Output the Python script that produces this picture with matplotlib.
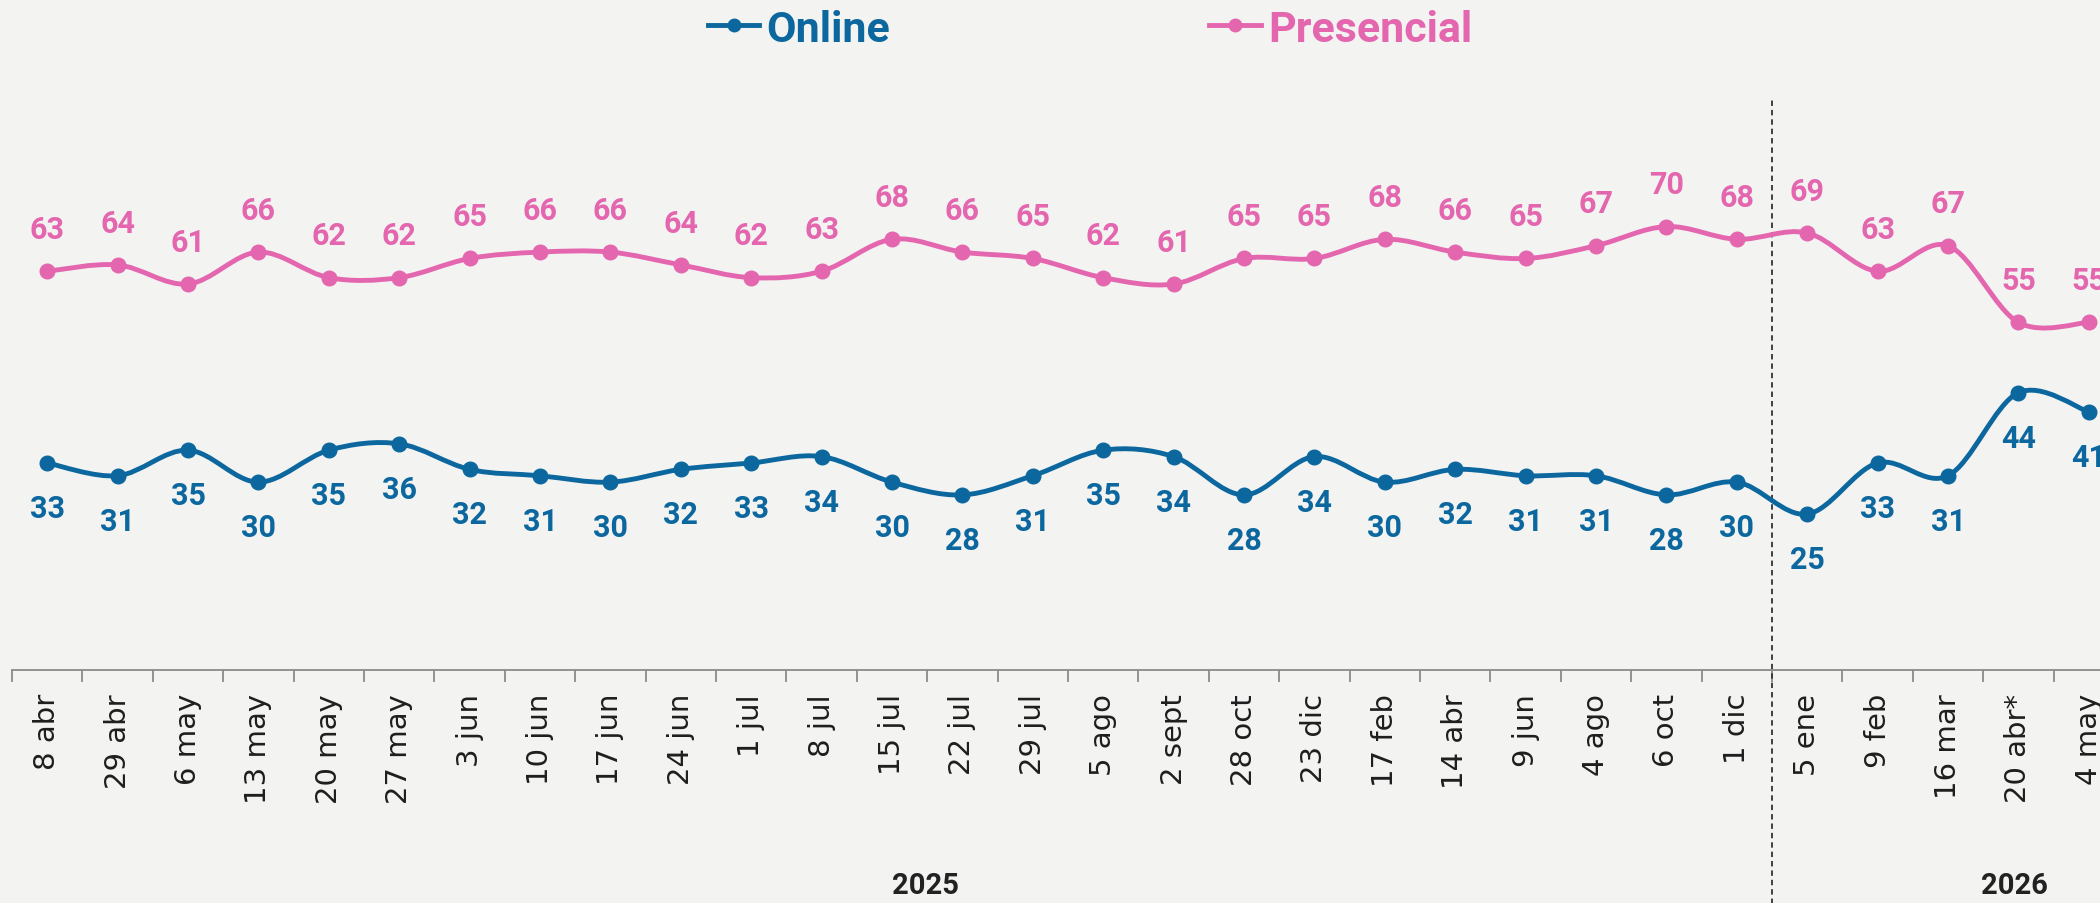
import matplotlib
matplotlib.use("Agg")
import matplotlib.pyplot as plt
from matplotlib.path import Path
from matplotlib.patches import PathPatch
from matplotlib.lines import Line2D
from matplotlib.ticker import FixedLocator
import matplotlib.transforms as mtransforms
import numpy as np

# ---------------- data ----------------
categories = ["8 abr", "29 abr", "6 may", "13 may", "20 may", "27 may", "3 jun",
              "10 jun", "17 jun", "24 jun", "1 jul", "8 jul", "15 jul", "22 jul",
              "29 jul", "5 ago", "2 sept", "28 oct", "23 dic", "17 feb", "14 abr",
              "9 jun", "4 ago", "6 oct", "1 dic", "5 ene", "9 feb", "16 mar",
              "20 abr*", "4 may"]
presencial = [63, 64, 61, 66, 62, 62, 65, 66, 66, 64, 62, 63, 68, 66, 65, 62, 61,
              65, 65, 68, 66, 65, 67, 70, 68, 69, 63, 67, 55, 55]
online = [33, 31, 35, 30, 35, 36, 32, 31, 30, 32, 33, 34, 30, 28, 31, 35, 34, 28,
          34, 30, 32, 31, 31, 28, 30, 25, 33, 31, 44, 41]
series_names = ["Online", "Presencial"]
year_labels = ["2025", "2026"]
year_positions = [12.47, 27.95]
divider_after = 24  # index of "1 dic"

# ---------------- style ----------------
BLUE = "#0B679E"
PINK = "#E366AE"
BG = "#F3F3F2"
W, H = 2100, 904
DPI = 100

def smooth_path(xs, ys):
    """Catmull-Rom curve expressed as cubic Bezier segments in data coords."""
    pts = np.column_stack([xs, ys]).astype(float)
    n = len(pts)
    verts = [pts[0]]
    codes = [Path.MOVETO]
    for i in range(n - 1):
        p0 = pts[i - 1] if i > 0 else pts[i]
        p1 = pts[i]
        p2 = pts[i + 1]
        p3 = pts[i + 2] if i + 2 < n else pts[i + 1]
        c1 = p1 + (p2 - p0) / 6.0
        c2 = p2 - (p3 - p1) / 6.0
        verts += [c1, c2, p2]
        codes += [Path.CURVE4] * 3
    return Path(verts, codes)

fig = plt.figure(figsize=(W / DPI, H / DPI), dpi=DPI, facecolor=BG)
ax_left, ax_w = 12 / W, 2112 / W
ax_bottom, ax_h = 1 - 671 / H, 639 / H
ax = fig.add_axes([ax_left, ax_bottom, ax_w, ax_h])
ax.set_facecolor("none")

x = np.arange(len(categories))
ax.set_xlim(-0.5, len(categories) - 0.5)
ax.set_ylim(0.6, 100.6)

for vals, color, dy in [(presencial, PINK, 30.5), (online, BLUE, -32.5)]:
    ax.add_patch(PathPatch(smooth_path(x, vals), facecolor="none", edgecolor=color,
                           lw=3.5, capstyle="round", joinstyle="round", zorder=3))
    ax.plot(x, vals, "o", color=color, markersize=10.5, zorder=4)
    for xi, v in zip(x, vals):
        ax.annotate(str(v), (xi, v), xytext=(0, dy), textcoords="offset points",
                    ha="center", va="center", color=color, fontsize=22,
                    fontweight="bold", family="Roboto", zorder=5,
                    annotation_clip=False)

# axes / ticks
for s in ["top", "right", "left"]:
    ax.spines[s].set_visible(False)
ax.spines["bottom"].set_color("#8a8a8a")
ax.spines["bottom"].set_linewidth(1.3)
ax.set_yticks([])
ax.xaxis.set_major_locator(FixedLocator(x))
ax.set_xticklabels(categories, rotation=90, fontsize=21, family="DejaVu Sans",
                   color="#1e1e1e")
ax.xaxis.set_minor_locator(FixedLocator(np.arange(-0.5, len(categories), 1.0)))
ax.tick_params(axis="x", which="major", length=0, pad=16.5)
ax.tick_params(axis="x", which="minor", length=8.6, width=1.3, color="#8a8a8a")

# divider
ax.axvline(divider_after + 0.5, ymin=-0.37, ymax=0.894, clip_on=False,
           color="#333333", lw=1.3, ls=(0, (3, 2.2)), zorder=2)

# year labels
trans = mtransforms.blended_transform_factory(ax.transData, ax.transAxes)
for lbl, pos in zip(year_labels, year_positions):
    ax.text(pos, -0.336, lbl, transform=trans, ha="center", va="center",
            fontsize=21, fontweight="bold", family="Roboto", color="#222222")

# legend
handles = [Line2D([], [], color=BLUE, lw=3.5, marker="o", markersize=9),
           Line2D([], [], color=PINK, lw=3.5, marker="o", markersize=9)]
leg = fig.legend(handles, series_names, loc="center",
                 bbox_to_anchor=(1090 / W, 1 - 30 / H), ncol=2, frameon=False,
                 prop={"family": "Roboto", "weight": "bold", "size": 31},
                 handlelength=1.2, handletextpad=0.17, columnspacing=7.4,
                 labelcolor="linecolor", borderpad=0, borderaxespad=0)

fig.savefig("out.png", dpi=DPI, facecolor=BG)
